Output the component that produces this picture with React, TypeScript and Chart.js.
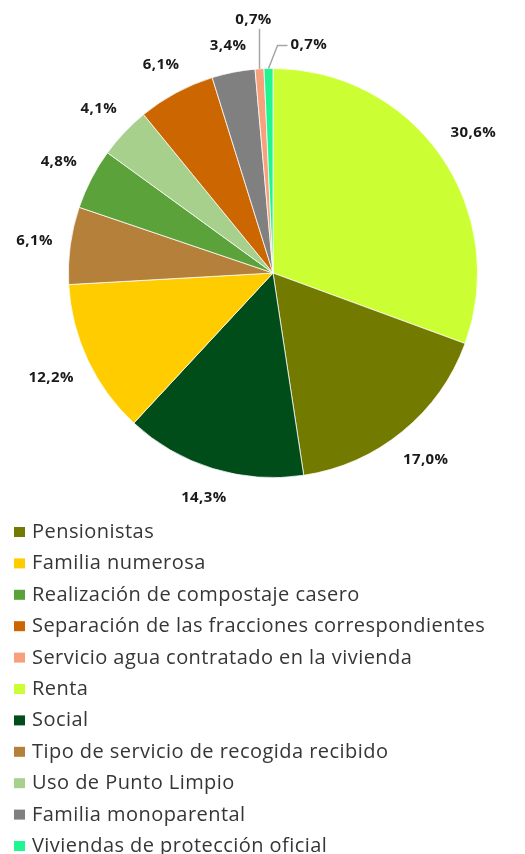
import React, { useEffect, useRef } from "react";
import { Chart, registerables } from "chart.js";

Chart.register(...registerables);

const categories = [
  "Renta",
  "Pensionistas",
  "Social",
  "Familia numerosa",
  "Tipo de servicio de recogida recibido",
  "Realización de compostaje casero",
  "Uso de Punto Limpio",
  "Separación de las fracciones correspondientes",
  "Familia monoparental",
  "Servicio agua contratado en la vivienda",
  "Viviendas de protección oficial",
];

const values = [30.6, 17.0, 14.3, 12.2, 6.1, 4.8, 4.1, 6.1, 3.4, 0.7, 0.7];

const colors = [
  "#ccff33",
  "#737a00",
  "#004d1a",
  "#ffcc00",
  "#b5803a",
  "#5aa239",
  "#a6d08c",
  "#cc6600",
  "#808080",
  "#f7a07c",
  "#1ff590",
];

const legendOrder = [
  "Pensionistas",
  "Familia numerosa",
  "Realización de compostaje casero",
  "Separación de las fracciones correspondientes",
  "Servicio agua contratado en la vivienda",
  "Renta",
  "Social",
  "Tipo de servicio de recogida recibido",
  "Uso de Punto Limpio",
  "Familia monoparental",
  "Viviendas de protección oficial",
];

const fmt = (v: number) => v.toFixed(1).replace(".", ",") + "%";

const labelPlugin = {
  id: "sliceLabels",
  afterDatasetsDraw(chart: any) {
    const ctx = chart.ctx as any;
    const meta = chart.getDatasetMeta(0);
    ctx.save();
    ctx.font = 'bold 15px "Open Sans"';
    ctx.letterSpacing = "0.4px";
    ctx.fillStyle = "#1a1a1a";
    let smallIdx = 0;
    meta.data.forEach((arc: any, i: number) => {
      const p = arc.getProps(["x", "y", "startAngle", "endAngle", "outerRadius"], true);
      const mid = (p.startAngle + p.endAngle) / 2;
      const ux = Math.cos(mid);
      const uy = Math.sin(mid);
      const text = fmt(values[i]);
      const w = ctx.measureText(text).width / 2;
      const h = 7;
      if (values[i] >= 1) {
        const d = p.outerRadius + 17 + Math.abs(ux) * w + Math.abs(uy) * h;
        ctx.textAlign = "center";
        ctx.textBaseline = "middle";
        ctx.fillText(text, p.x + ux * d, p.y + uy * d);
      } else {
        const ax = p.x + ux * p.outerRadius;
        const ay = p.y + uy * p.outerRadius;
        ctx.strokeStyle = "#a6a6a6";
        ctx.lineWidth = 1.5;
        ctx.beginPath();
        if (smallIdx === 0) {
          ctx.moveTo(ax, ay);
          ctx.lineTo(ax, ay - 40);
          ctx.stroke();
          ctx.textAlign = "center";
          ctx.textBaseline = "middle";
          ctx.fillText(text, ax - 6, ay - 49);
        } else {
          ctx.moveTo(ax, ay);
          ctx.lineTo(ax + 9, ay - 23);
          ctx.lineTo(ax + 19, ay - 23);
          ctx.stroke();
          ctx.textAlign = "left";
          ctx.textBaseline = "middle";
          ctx.fillText(text, ax + 22, ay - 24);
        }
        smallIdx++;
      }
    });
    ctx.restore();
  },
};

const legendPlugin = {
  id: "verticalLegend",
  afterDraw(chart: any) {
    const ctx = chart.ctx as any;
    const top = chart.chartArea.bottom + 60;
    const step = 31.4;
    ctx.save();
    ctx.font = '20px "Open Sans"';
    ctx.letterSpacing = "0.45px";
    ctx.textAlign = "left";
    ctx.textBaseline = "alphabetic";
    legendOrder.forEach((name, k) => {
      const i = categories.indexOf(name);
      const base = top + k * step;
      ctx.fillStyle = colors[i];
      ctx.fillRect(14, base - 11, 11, 10);
      ctx.fillStyle = "#363636";
      ctx.fillText(name, 32, base);
    });
    ctx.restore();
  },
};

export default function App() {
  const ref = useRef<HTMLCanvasElement | null>(null);
  useEffect(() => {
    if (!ref.current) return;
    const chart = new Chart(ref.current, {
      type: "pie",
      data: {
        labels: categories,
        datasets: [
          {
            data: values,
            backgroundColor: colors,
            borderColor: "#ffffff",
            borderWidth: 0.75,
          },
        ],
      },
      options: {
        animation: false,
        responsive: true,
        maintainAspectRatio: false,
        layout: { padding: { top: 68, left: 68, right: 47, bottom: 376 } },
        plugins: {
          legend: { display: false },
          tooltip: { enabled: false },
        },
      },
      plugins: [labelPlugin, legendPlugin],
    });
    return () => chart.destroy();
  }, []);
  return (
    <div style={{ position: "absolute", left: 0, top: 0, width: 525, height: 854, background: "#ffffff" }}>
      <canvas ref={ref} />
    </div>
  );
}
